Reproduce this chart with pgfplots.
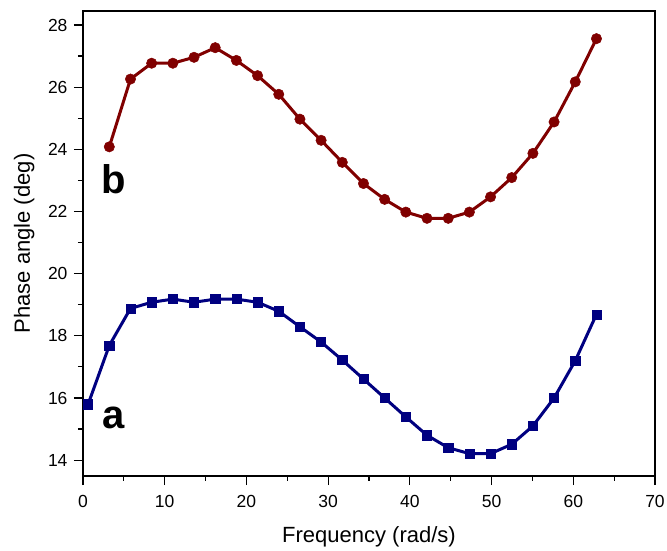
\documentclass[border=0pt]{standalone}
\usepackage{pgfplots}
\pgfplotsset{compat=1.18}
\usepackage{fontspec}
\setmainfont{Liberation Sans}
\definecolor{bred}{RGB}{128,0,0}
\definecolor{anavy}{RGB}{0,0,128}
\begin{document}
\begin{tikzpicture}
\path[use as bounding box] (-83pt,-75pt) rectangle (584pt,476pt);
\begin{axis}[
  scale only axis,
  width=572pt, height=465pt,
  xmin=0, xmax=70, ymin=13.49, ymax=28.45,
  xtick={0,10,...,70}, ytick={14,16,...,28},
  minor xtick={5,15,...,65}, minor ytick={15,17,...,27},
  tick pos=left,
  tick align=outside,
  major tick length=9pt, minor tick length=5pt,
  every tick/.style={black, line width=1.2pt},
  axis line style={line width=1.4pt},
  /pgf/number format/assume math mode=true,
  ticklabel style={font=\fontsize{17.5}{21}\selectfont},
  xticklabel style={yshift=-7pt},
  yticklabel style={xshift=-3pt},
  label style={font=\fontsize{22}{26}\selectfont},
  xlabel={Frequency (rad/s)},
  ylabel={Phase angle (deg)},
  xlabel style={at={(axis description cs:0.5,0)}, anchor=north, yshift=-47pt},
  ylabel style={at={(axis description cs:0,0.5)}, anchor=south, yshift=45pt},
  clip=false,
]
\addplot[color=bred, line width=3pt, mark=*, mark size=5.2pt, mark options={fill=bred, draw=bred, line width=0.5pt}] coordinates {
(3.220,24.08) (5.812,26.26) (8.404,26.77) (10.996,26.77) (13.588,26.96) (16.180,27.27)
(18.772,26.86) (21.364,26.37) (23.956,25.77) (26.548,24.97) (29.140,24.29) (31.732,23.58)
(34.324,22.90) (36.916,22.39) (39.508,21.98) (42.100,21.78) (44.692,21.78) (47.284,21.98)
(49.876,22.47) (52.468,23.09) (55.060,23.87) (57.652,24.88) (60.244,26.17) (62.836,27.56)
};
\addplot[color=anavy, line width=3pt, mark=square*, mark size=4.6pt, mark options={fill=anavy, draw=anavy, line width=0.5pt}] coordinates {
(0.628,15.80) (3.220,17.69) (5.812,18.88) (8.404,19.08) (10.996,19.18) (13.588,19.08)
(16.180,19.18) (18.772,19.18) (21.364,19.08) (23.956,18.79) (26.548,18.29) (29.140,17.80)
(31.732,17.22) (34.324,16.61) (36.916,16.00) (39.508,15.39) (42.100,14.80) (44.692,14.40)
(47.284,14.21) (49.876,14.21) (52.468,14.51) (55.060,15.10) (57.652,16.00) (60.244,17.20)
(62.836,18.69)
};
\node[font=\fontsize{40}{44}\selectfont\bfseries] at (axis cs:3.7,23.04) {b};
\node[font=\fontsize{40}{44}\selectfont\bfseries] at (axis cs:3.7,15.35) {a};
\end{axis}
\end{tikzpicture}
\end{document}
